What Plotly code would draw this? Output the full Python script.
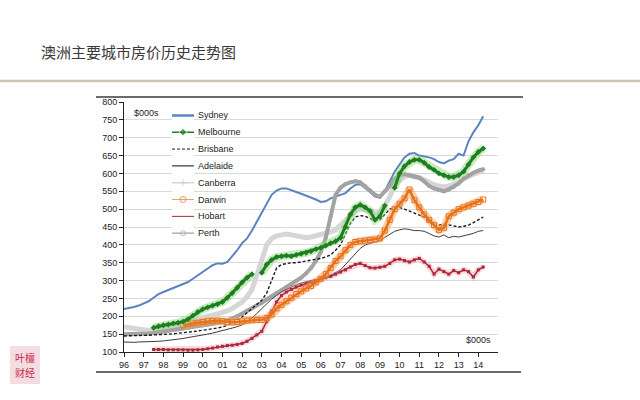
import plotly.graph_objects as go

# ---------------- data (quarterly, 1996Q1 .. 2014Q2), $000s ----------------
quarters = [1996 + q / 4 for q in range(74)]

sydney = [220, 222, 226, 230, 235, 242, 252, 262, 268, 274, 280, 284,
          290, 296, 305, 315, 325, 335, 343, 348, 347, 352, 368, 385,
          405, 418, 440, 465, 490, 515, 540, 552, 558, 558, 552, 548,
          543, 538, 532, 527, 520, 522, 530, 535, 538, 545, 558, 568,
          570, 560, 548, 535, 532, 550, 580, 605, 625, 645, 655, 657,
          650, 648, 645, 640, 632, 628, 636, 640, 655, 650, 690, 715,
          735, 760]

melbourne = [None] * 6 + [168, 172,
          175, 177, 180, 182, 185, 192, 202, 212, 220, 225, 230, 234,
          240, 252, 265, 280, 295, 308, 318, None, 322, 345, 358, 366,
          368, 370, 368, 372, 375, 378, 382, 388, 392, 398, 405, 410,
          420, 450, 485, 505, 512, 505, 495, 470, 480, 510, None, 560,
          600, 620, 632, 638, 638, 630, 618, 610, 600, 595, 590, 590,
          595, 605, 625, 645, 660, 670]

brisbane = [145, 145, 146, 146, 147, 147, 148, 148, 149, 150, 151, 152,
            154, 155, 157, 159, 160, 163, 165, 167, 170, 175, 182, 190,
            198, 210, 222, 232, 245, 265, 300, 335, 345, 348, 350, 350,
            352, 355, 357, 358, 362, 366, 372, 385, 400, 430, 460, 478,
            482, 480, 475, 468, 470, 485, 500, 505, 505, 500, 495, 490,
            485, 478, 465, 452, 455, 458, 456, 452, 450, 452, 455, 462,
            470, 478]

adelaide = [128, 127, 127, 128, 128, 128, 129, 130, 131, 132, 134, 136,
            138, 140, 142, 145, 147, 150, 153, 156, 160, 163, 167, 171,
            176, 185, 195, 208, 222, 235, 248, 258, 268, 275, 282, 288,
            293, 297, 300, 303, 306, 310, 315, 322, 330, 345, 360, 375,
            390, 400, 405, 408, 412, 420, 430, 438, 442, 445, 443, 440,
            440, 438, 432, 425, 422, 428, 420, 424, 422, 425, 430, 432,
            438, 440]

canberra = [170, 168, 165, 162, 160, 158, 158, 160, 163, 166, 170, 174,
            178, 183, 188, 193, 197, 200, 203, 206, 210, 215, 222, 230,
            240, 255, 275, 315, 360, 400, 418, 425, 428, 430, 428, 425,
            422, 420, 422, 425, 428, 432, 436, 442, 455, 470, 485, 495,
            500, 498, 492, 488, 492, 510, 535, 565, 580, 590, 595, 592,
            588, 582, 575, 568, 565, 562, 565, 570, 575, 585, 592, 598,
            602, 608]

darwin = [None] * 12 + [175, 178, 180, 182, 184, 186, 187, 188,
          186, 184, 183, 184, 186, 188, 189, 190, 190, 195, 205, 222,
          232, 242, 252, 262, 270, 278, 285, 295, 305, 318, 335, 355,
          368, 385, 400, 408, 410, 412, 414, 415, 418, 440, 470, 500,
          515, 530, 555, 525, 505, 485, 470, 455, 442, 448, 480, 490,
          500, 505, 510, 515, 520, 527]

hobart = [None] * 6 + [107, 107,
          107, 106, 106, 106, 106, 105, 105, 106, 107, 109, 111, 114,
          116, 118, 119, 121, 124, 130, 138, 148, 158, 185, 215, 240,
          258, 268, 275, 282, 287, 291, 295, 300, 305, 308, 312, 318,
          324, 330, 338, 345, 348, 342, 336, 335, 337, 340, 348, 358,
          360, 356, 352, 358, 362, 352, 340, 318, 332, 325, 318, 328,
          322, 330, 325, 310, 330, 338]

perth = [150, 150, 150, 151, 151, 152, 153, 155, 157, 159, 161, 163,
         165, 168, 170, 172, 174, 176, 178, 181, 185, 189, 194, 200,
         207, 215, 222, 230, 238, 247, 256, 265, 272, 280, 290, 298,
         308, 320, 335, 355, 380, 420, 480, 540, 560, 570, 575, 578,
         575, 565, 552, 540, 535, 550, 565, 585, 595, 598, 595, 590,
         588, 578, 565, 558, 553, 550, 555, 562, 572, 585, 595, 602,
         608, 612]

year_ticks = list(range(1996, 2015))
year_labels = ["96", "97", "98", "99", "00", "01", "02", "03", "04", "05",
               "06", "07", "08", "09", "10", "11", "12", "13", "14"]
value_ticks = list(range(100, 801, 50))

legend_names = ["Sydney", "Melbourne", "Brisbane", "Adelaide",
                "Canberra", "Darwin", "Hobart", "Perth"]

# ---------------- styles ----------------
C_SYD = "#5a84bf"
C_MEL = "#1f7d22"
C_BRI = "#1a1a1a"
C_ADE = "#3c3c3c"
C_CAN = "#d6d6d6"
C_DAR = "#e8711c"
C_HOB = "#a8283c"
C_PER = "#a3a3a3"

fig = go.Figure()


def add(y, **kw):
    fig.add_trace(go.Scatter(x=quarters, y=y, showlegend=False,
                             hoverinfo="skip", connectgaps=False, **kw))


# thick light/grey series underneath
add(canberra, mode="lines", line=dict(color=C_CAN, width=5))
add(sydney, mode="lines", line=dict(color=C_SYD, width=2))
add(perth, mode="lines+markers", line=dict(color=C_PER, width=4),
    marker=dict(symbol="circle", size=4, color=C_PER))
add(adelaide, mode="lines", line=dict(color=C_ADE, width=1))
add(brisbane, mode="lines", line=dict(color=C_BRI, width=1.4, dash="3px,2px"))
# Hobart with pink glow
add(hobart, mode="lines", line=dict(color="rgba(240,140,150,0.35)", width=6))
add(hobart, mode="lines+markers", line=dict(color=C_HOB, width=1.5),
    marker=dict(symbol="square", size=3, color=C_HOB))
# Darwin with orange glow
add(darwin, mode="lines", line=dict(color="rgba(250,170,100,0.55)", width=8))
add(darwin, mode="lines+markers", line=dict(color=C_DAR, width=2.5),
    marker=dict(symbol="square-open", size=5, color=C_DAR, line=dict(width=1)))
# Melbourne with light green glow
add(melbourne, mode="lines", line=dict(color="rgba(140,220,120,0.5)", width=8))
add(melbourne, mode="lines+markers", line=dict(color=C_MEL, width=3),
    marker=dict(symbol="diamond", size=4.5, color=C_MEL))

# ---------------- manual legend (own small axes) ----------------
leg_styles = [
    dict(line=dict(color=C_SYD, width=2.5), mode="lines"),
    dict(line=dict(color=C_MEL, width=1.5), mode="lines+markers",
         marker=dict(symbol="diamond", size=[0, 6, 0], color=C_MEL)),
    dict(line=dict(color=C_BRI, width=1, dash="3px,2px"), mode="lines"),
    dict(line=dict(color=C_ADE, width=1.2), mode="lines"),
    dict(line=dict(color=C_CAN, width=1.5), mode="lines+markers",
         marker=dict(symbol="cross-thin-open", size=[0, 5, 0], color="#c8c8c8")),
    dict(line=dict(color="#f0a060", width=1), mode="lines+markers",
         marker=dict(symbol="circle-open", size=[0, 6, 0], color=C_DAR)),
    dict(line=dict(color=C_HOB, width=1), mode="lines"),
    dict(line=dict(color=C_PER, width=1.2), mode="lines+markers",
         marker=dict(symbol="circle-open", size=[0, 5, 0], color=C_PER)),
]
for i, st in enumerate(leg_styles):
    fig.add_trace(go.Scatter(x=[0, 0.5, 1], y=[i + 0.5] * 3, xaxis="x3",
                             yaxis="y3", showlegend=False, hoverinfo="skip",
                             **st))

W, H = 640, 400
L, R, T, B = 124, 142, 102, 48
pw, ph = W - L - R, H - T - B


def px(x):
    return (x - L) / pw


def py(y):
    return (H - B - y) / ph


annotations = []
for i, name in enumerate(legend_names):
    annotations.append(dict(x=px(196), y=i + 0.5, xref="paper", yref="y3",
                            text=name, showarrow=False, xanchor="left",
                            yanchor="middle",
                            font=dict(size=9, color="#222222",
                                      family="Liberation Sans, Arial")))
annotations += [
    dict(x=px(132), y=py(113), xref="paper", yref="paper", text="$000s",
         showarrow=False, xanchor="left", yanchor="middle",
         font=dict(size=9, color="#222222", family="Liberation Sans, Arial")),
    dict(x=px(493), y=py(340), xref="paper", yref="paper", text="$000s",
         showarrow=False, xanchor="right", yanchor="middle",
         font=dict(size=9, color="#222222", family="Liberation Sans, Arial")),
    dict(x=px(39), y=py(51), xref="paper", yref="paper",
         text="澳洲主要城市房价历史走势图", showarrow=False,
         xanchor="left", yanchor="middle",
         font=dict(size=15, color="#3a3a3a", family="Noto Sans CJK SC")),
    dict(x=px(25), y=py(357), xref="paper", yref="paper",
         text="叶檀", showarrow=False, xanchor="center", yanchor="middle",
         font=dict(size=10, color="#c8294a", family="Noto Sans CJK SC")),
    dict(x=px(25), y=py(372), xref="paper", yref="paper",
         text="财经", showarrow=False, xanchor="center", yanchor="middle",
         font=dict(size=10, color="#c8294a", family="Noto Sans CJK SC")),
]

shapes = [
    dict(type="line", xref="paper", yref="paper", x0=px(0), x1=px(640),
         y0=py(81), y1=py(81), line=dict(color="#cdc1b5", width=2.5)),
    dict(type="line", xref="paper", yref="paper", x0=px(96), x1=px(523),
         y0=py(97), y1=py(97), line=dict(color="#3a3a3a", width=1.5)),
    dict(type="line", xref="paper", yref="paper", x0=px(96), x1=px(521),
         y0=py(372), y1=py(372), line=dict(color="#3a3a3a", width=1.5)),
    dict(type="rect", xref="paper", yref="paper", x0=px(10), x1=px(40),
         y0=py(346), y1=py(384), fillcolor="#f4dde0",
         line=dict(width=0), layer="below"),
]

axis_font = dict(size=9, color="#222222", family="Liberation Sans, Arial")

fig.update_layout(
    width=W, height=H,
    margin=dict(l=L, r=R, t=T, b=B),
    paper_bgcolor="white", plot_bgcolor="white",
    showlegend=False,
    xaxis=dict(range=[1996, 2015], tickvals=year_ticks, ticktext=year_labels,
               ticks="outside", ticklen=4, tickcolor="#222", showgrid=False,
               showline=True, linecolor="#222", linewidth=1, zeroline=False,
               tickfont=axis_font),
    yaxis=dict(range=[100, 800], tickvals=value_ticks, ticks="outside",
               ticklen=4, tickcolor="#222", showgrid=True, gridcolor="#d9d9d9",
               gridwidth=1, showline=True, linecolor="#222", linewidth=1,
               zeroline=False, tickfont=axis_font),
    yaxis2=dict(range=[100, 800], tickvals=value_ticks, overlaying="y",
                side="right", anchor="x", ticks="outside", ticklen=4,
                tickcolor="#222", showgrid=False, showline=True,
                linecolor="#222", linewidth=1, zeroline=False,
                tickfont=axis_font),
    xaxis3=dict(domain=[px(172), px(194)], range=[0, 1], visible=False,
                anchor="y3", fixedrange=True),
    yaxis3=dict(domain=[py(241.6), py(107)], range=[8, 0], visible=False,
                anchor="x3", fixedrange=True),
    annotations=annotations,
    shapes=shapes,
)

fig.write_html("out.html")
